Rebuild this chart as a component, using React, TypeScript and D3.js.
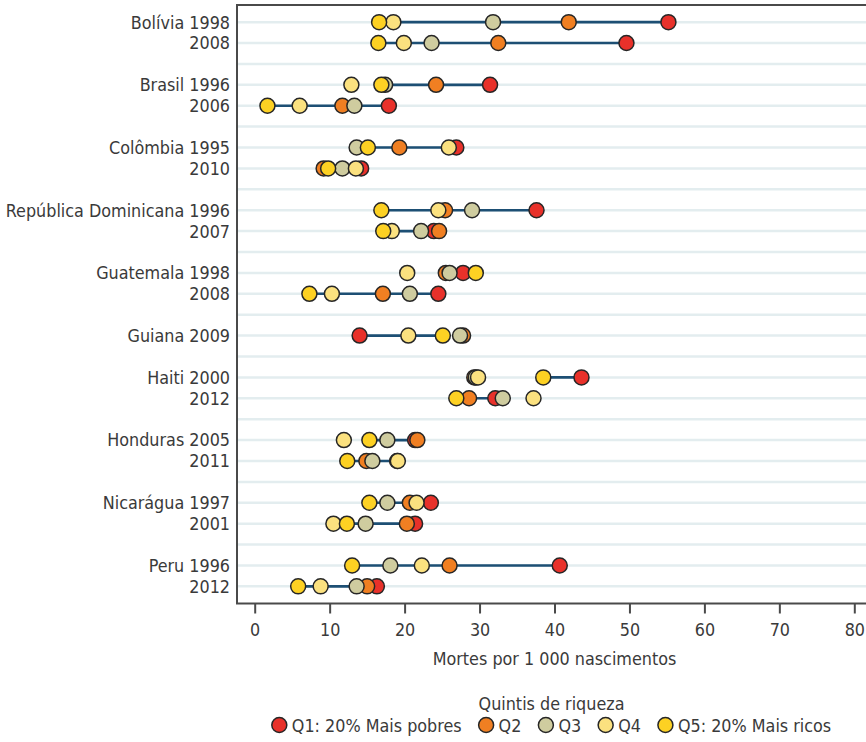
import React, { useEffect, useRef } from 'react';
import * as d3 from 'd3';

// one entry per row, '' = spacer row between countries
const rowLabels = [
  'Bolívia 1998', '2008', '',
  'Brasil 1996', '2006', '',
  'Colômbia 1995', '2010', '',
  'República Dominicana 1996', '2007', '',
  'Guatemala 1998', '2008', '',
  'Guiana 2009', '',
  'Haiti 2000', '2012', '',
  'Honduras 2005', '2011', '',
  'Nicarágua 1997', '2001', '',
  'Peru 1996', '2012',
];

// deaths per 1 000 births, by wealth quintile (null on spacer rows)
const q1 = [55.2, 49.6, null, 31.4, 17.9, null, 26.9, 14.2, null, 37.6, 23.9, null, 27.8, 24.5, null, 14.0, null, 43.6, 32.1, null, 21.4, 19.0, null, 23.5, 21.4, null, 40.7, 16.3];
const q2 = [41.9, 32.5, null, 24.2, 11.7, null, 19.3, 9.2, null, 25.4, 24.6, null, 25.5, 17.1, null, 27.8, null, 29.3, 28.6, null, 21.7, 14.9, null, 20.7, 20.3, null, 26.0, 15.0];
const q3 = [31.8, 23.6, null, 17.4, 13.3, null, 13.6, 11.7, null, 29.0, 22.2, null, 26.0, 20.7, null, 27.4, null, 29.5, 33.1, null, 17.7, 15.7, null, 17.7, 14.8, null, 18.1, 13.6];
const q4 = [18.5, 19.9, null, 12.9, 6.0, null, 25.9, 13.5, null, 24.5, 18.3, null, 20.35, 10.3, null, 20.5, null, 29.8, 37.2, null, 11.9, 19.1, null, 21.6, 10.5, null, 22.3, 8.8];
const q5 = [16.6, 16.5, null, 16.9, 1.7, null, 15.1, 9.8, null, 16.9, 17.15, null, 29.5, 7.3, null, 25.1, null, 38.5, 26.9, null, 15.3, 12.35, null, 15.3, 12.3, null, 13.0, 5.8];

const xTicks = [0, 10, 20, 30, 40, 50, 60, 70, 80];
const quintileLabels = ['Q1: 20% Mais pobres', 'Q2', 'Q3', 'Q4', 'Q5: 20% Mais ricos'];
const quintileColors = ['#e8312a', '#f07f22', '#cfcc9f', '#fbe17f', '#fdd123'];

const W = 866;
const H = 742;
const FONT = "'DejaVu Sans Condensed', 'Liberation Sans Narrow', sans-serif";
const FS = 17.8;
const TEXT = '#3a3a3a';

const App = () => {
  const ref = useRef<SVGSVGElement | null>(null);

  useEffect(() => {
    const svg = d3.select(ref.current);
    svg.selectAll('*').remove();

    const left = 237;
    const top = 5;
    const bottom = 603.5;

    const x = d3.scaleLinear().domain([0, 80]).range([254.7, 854.3]);
    const y = d3.scalePoint<number>()
      .domain(rowLabels.map((_, i) => i))
      .range([top, bottom])
      .padding(0.82);

    // gridlines on every row
    svg.append('g')
      .selectAll('line')
      .data(rowLabels.map((_, i) => i))
      .enter().append('line')
      .attr('x1', left)
      .attr('x2', W)
      .attr('y1', d => y(d)!)
      .attr('y2', d => y(d)!)
      .attr('stroke', '#e3edef')
      .attr('stroke-width', 2.5);

    // frame
    svg.append('rect')
      .attr('x', left)
      .attr('y', top)
      .attr('width', W + 20 - left)
      .attr('height', bottom - top)
      .attr('fill', 'none')
      .attr('stroke', '#4a4a4a')
      .attr('stroke-width', 2);

    // row labels
    svg.append('g')
      .selectAll('text')
      .data(rowLabels)
      .enter().append('text')
      .attr('x', 230)
      .attr('y', (_, i) => y(i)!)
      .attr('dy', '0.36em')
      .attr('text-anchor', 'end')
      .attr('font-family', FONT)
      .attr('font-size', FS)
      .attr('fill', TEXT)
      .text(d => d);

    // x axis
    const axis = svg.append('g')
      .attr('transform', `translate(0,${bottom})`)
      .call(d3.axisBottom(x).tickValues(xTicks).tickSize(10).tickPadding(9.5));
    axis.select('.domain').remove();
    axis.selectAll('line').attr('stroke', '#4a4a4a').attr('stroke-width', 2);
    axis.selectAll('text')
      .attr('font-family', FONT)
      .attr('font-size', FS)
      .attr('fill', TEXT);

    svg.append('text')
      .attr('x', (x(0) + x(80)) / 2)
      .attr('y', 664.5)
      .attr('text-anchor', 'middle')
      .attr('font-family', FONT)
      .attr('font-size', FS)
      .attr('fill', TEXT)
      .text('Mortes por 1 000 nascimentos');

    // connector Q1 -> Q5
    const rows = rowLabels.map((_, i) => i).filter(i => q1[i] != null);
    svg.append('g')
      .selectAll('line')
      .data(rows)
      .enter().append('line')
      .attr('x1', i => x(q1[i] as number))
      .attr('x2', i => x(q5[i] as number))
      .attr('y1', i => y(i)!)
      .attr('y2', i => y(i)!)
      .attr('stroke', '#1d4f74')
      .attr('stroke-width', 2.6);

    // dots, Q1 at the bottom
    const series = [q1, q2, q3, q4, q5];
    series.forEach((vals, k) => {
      svg.append('g')
        .selectAll('circle')
        .data(rows)
        .enter().append('circle')
        .attr('cx', i => x(vals[i] as number))
        .attr('cy', i => y(i)!)
        .attr('r', 7.5)
        .attr('fill', quintileColors[k])
        .attr('stroke', '#262626')
        .attr('stroke-width', 1.5);
    });

    // legend
    svg.append('text')
      .attr('x', 551.5)
      .attr('y', 710)
      .attr('text-anchor', 'middle')
      .attr('font-family', FONT)
      .attr('font-size', FS)
      .attr('fill', TEXT)
      .text('Quintis de riqueza');

    const lg = svg.append('g');
    let cursor = 0;
    quintileLabels.forEach((lab, k) => {
      const item = lg.append('g').attr('transform', `translate(${cursor},0)`);
      item.append('circle')
        .attr('cx', 7.5)
        .attr('cy', 725)
        .attr('r', 7.5)
        .attr('fill', quintileColors[k])
        .attr('stroke', '#262626')
        .attr('stroke-width', 1.5);
      const t = item.append('text')
        .attr('x', 20)
        .attr('y', 731.5)
        .attr('font-family', FONT)
        .attr('font-size', FS)
        .attr('fill', TEXT)
        .text(lab);
      const w = (t.node() as SVGTextElement).getComputedTextLength();
      cursor += 20 + w + 17;
    });
    const total = cursor - 17;
    lg.attr('transform', `translate(${551.5 - total / 2},0)`);
  }, []);

  return (
    <svg
      ref={ref}
      width={W}
      height={H}
      style={{ position: 'absolute', left: 0, top: 0, background: '#fff' }}
    />
  );
};

export default App;
